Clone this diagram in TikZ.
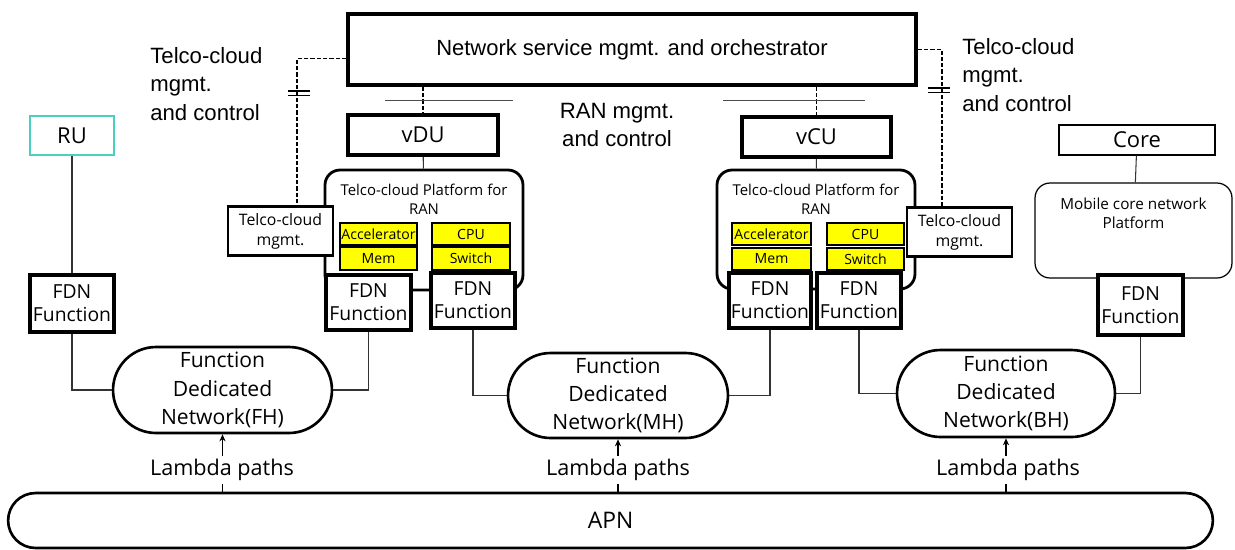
\documentclass[tikz,border=0pt]{standalone}
\usepackage{fontspec}
\setmainfont{Open Sans}
\newfontfamily\arialfont{Liberation Sans}
\usetikzlibrary{arrows.meta, positioning, shapes.misc}
\definecolor{rucyan}{RGB}{72,209,190}
\definecolor{hwyellow}{RGB}{255,255,0}

\begin{document}
\begin{tikzpicture}[
  x=0.02cm, y=-0.02cm,
  box/.style={rectangle, draw, line width=2pt, fill=white, align=center, font=\fontsize{12.5}{15}\selectfont},
  thinbox/.style={rectangle, draw, line width=0.7pt, fill=white, align=center, font=\fontsize{12.5}{15}\selectfont},
  fdn/.style={rectangle, draw, line width=1.8pt, fill=white, align=center, inner sep=0pt, minimum height=1.1cm, font=\fontsize{11}{13}\selectfont},
  hw/.style={rectangle, draw, line width=1.2pt, fill=hwyellow, inner sep=0pt, minimum height=0.45cm, font=\fontsize{8}{9}\selectfont},
  mgmtbox/.style={rectangle, draw, line width=1.6pt, fill=white, align=center, inner sep=0pt, minimum width=2.1cm, minimum height=0.98cm, font=\fontsize{9}{11.3}\selectfont},
  platform/.style={rectangle, draw, rounded corners=0.3cm, line width=1.6pt, fill=white, minimum width=3.96cm, minimum height=2.4cm},
  pill/.style={rounded rectangle, draw, line width=1.5pt, fill=white, align=center, inner sep=0pt, minimum width=4.38cm, minimum height=1.72cm, font=\fontsize{12}{16}\selectfont},
  lam/.style={fill=white, inner sep=2pt, font=\fontsize{12.3}{14}\selectfont},
  note/.style={align=left, inner sep=0pt, font=\arialfont\fontsize{12.6}{16}\selectfont},
  conn/.style={draw, line width=0.6pt, black!80},
  ctrl/.style={draw, line width=0.6pt, dash pattern=on 2.4pt off 1.2pt},
  brk/.style={draw, line width=1pt},
  arrow/.style={-{Stealth[length=4pt, width=3.5pt]}, line width=0.6pt}
  ]
\useasboundingbox (0,0) rectangle (1235,549);

% orchestrator and management
\node[box, minimum width=11.36cm, minimum height=1.42cm, font=\arialfont\fontsize{12.5}{15}\selectfont] (orch) at (632,49.5) {Network service mgmt. and orchestrator};
\node[note, anchor=west] (tcl) at (150,84) {Telco-cloud\\mgmt.\\and control};
\node[note, anchor=west] (tcr) at (962,75) {Telco-cloud\\mgmt.\\and control};
\node[note, align=center] (ran) at (617,125) {RAN mgmt.\\and control};

% RAN functions
\node[box, minimum width=3cm, minimum height=0.8cm] (vdu) at (423,135) {vDU};
\node[box, minimum width=2.98cm, minimum height=0.8cm] (vcu) at (816.5,137) {vCU};
\node[thinbox, draw=rucyan, line width=1pt, minimum width=1.68cm, minimum height=0.78cm] (ru) at (72,135.5) {RU};
\node[thinbox, minimum width=3.12cm, minimum height=0.6cm, inner sep=0pt] (core) at (1137,140) {Core};

% platforms
\node[platform, label={[anchor=north, yshift=-5pt, align=center, font=\fontsize{8.5}{11.3}\selectfont]north:Telco-cloud Platform for\\RAN}] (plat1) at (424,230) {};
\node[platform, minimum height=2.38cm, label={[anchor=north, yshift=-5pt, align=center, font=\fontsize{8.5}{11.3}\selectfont]north:Telco-cloud Platform for\\RAN}] (plat2) at (816,229.5) {};
\node[platform, line width=0.7pt, minimum width=3.94cm, minimum height=1.9cm, label={[anchor=north, yshift=-5pt, align=center, font=\fontsize{8.7}{11.3}\selectfont]north:Mobile core network\\Platform}] (mcp) at (1133.5,230.5) {};

\node[hw, minimum width=1.54cm] (acc1) at (378.5,234) {Accelerator};
\node[hw, minimum width=1.54cm] (mem1) at (378.5,258.5) {Mem};
\node[hw, minimum width=1.56cm] (cpu1) at (471,234) {CPU};
\node[hw, minimum width=1.56cm] (sw1) at (471,258.5) {Switch};
\node[hw, minimum width=1.58cm] (acc2) at (771.5,234) {Accelerator};
\node[hw, minimum width=1.58cm] (mem2) at (771.5,259) {Mem};
\node[hw, minimum width=1.54cm] (cpu2) at (865.5,234) {CPU};
\node[hw, minimum width=1.54cm] (sw2) at (865.5,259) {Switch};

\node[mgmtbox] (mgmt1) at (280.5,231) {Telco-cloud\\mgmt.};
\node[mgmtbox] (mgmt2) at (959.5,232) {Telco-cloud\\mgmt.};

% FDN functions
\node[fdn, minimum width=1.68cm, minimum height=1.14cm] (fdnru) at (72,303.5) {FDN\\Function};
\node[fdn, minimum width=1.7cm] (fdndu1) at (368.5,302.5) {FDN\\Function};
\node[fdn, minimum width=1.68cm] (fdndu2) at (473,300.5) {FDN\\Function};
\node[fdn, minimum width=1.64cm] (fdncu1) at (770,300.5) {FDN\\Function};
\node[fdn, minimum width=1.68cm] (fdncu2) at (859,300.5) {FDN\\Function};
\node[fdn, minimum width=1.7cm, minimum height=1.2cm] (fdncore) at (1140.5,305) {FDN\\Function};

% dedicated networks
\node[pill] (fh) at (222.5,390) {Function\\Dedicated\\Network(FH)};
\node[pill, minimum width=4.4cm, minimum height=1.7cm] (mh) at (618,395.5) {Function\\Dedicated\\Network(MH)};
\node[pill, minimum width=4.36cm, minimum height=1.74cm] (bh) at (1006,393.5) {Function\\Dedicated\\Network(BH)};
\node[pill, minimum width=24.1cm, minimum height=1.1cm, font=\fontsize{13}{15}\selectfont] (apn) at (610.5,520.5) {APN};

% connectors
\draw[conn] (ru) -- (fdnru);
\draw[conn] (vdu) -- (plat1);
\draw[conn] (vcu) -- (plat2);
\draw[conn] (core) -- (mcp);
\draw[conn] (fdnru.south) |- (fh.west);
\draw[conn] (fh.east) -| (fdndu1.south);
\draw[conn] (fdndu2.south) |- (mh.west);
\draw[conn] (mh.east) -| (fdncu1.south);
\draw[conn] (fdncu2.south) |- (bh.west);
\draw[conn] (bh.east) -| (fdncore.south);

\draw[ctrl] ([yshift=-0.18cm]orch.west) -| ([xshift=0.33cm]mgmt1.north);
\draw[ctrl] (orch.east) -| ([xshift=-0.35cm]mgmt2.north);
\draw[ctrl] (orch.south -| vdu.north) -- (vdu.north);
\draw[ctrl] (orch.south -| vcu.north) -- (vcu.north);
\draw[brk] (288,91) -- (310,91) (288,95.5) -- (310,95.5);
\draw[brk] (928,88) -- (950,88) (928,92.5) -- (950,92.5);
\draw[line width=0.5pt, black!70] (385,100) -- (513,100);
\draw[line width=0.5pt, black!70] (723,100) -- (865,100);

% lambda paths
\draw[arrow] (fh.south |- apn.north) -- (fh.south);
\draw[arrow] (mh.south |- apn.north) -- (mh.south);
\draw[arrow] (bh.south |- apn.north) -- (bh.south);
\node[lam] (lam1) at (222,470) {Lambda paths};
\node[lam] (lam2) at (618,470) {Lambda paths};
\node[lam] (lam3) at (1008,470) {Lambda paths};

\end{tikzpicture}
\end{document}
